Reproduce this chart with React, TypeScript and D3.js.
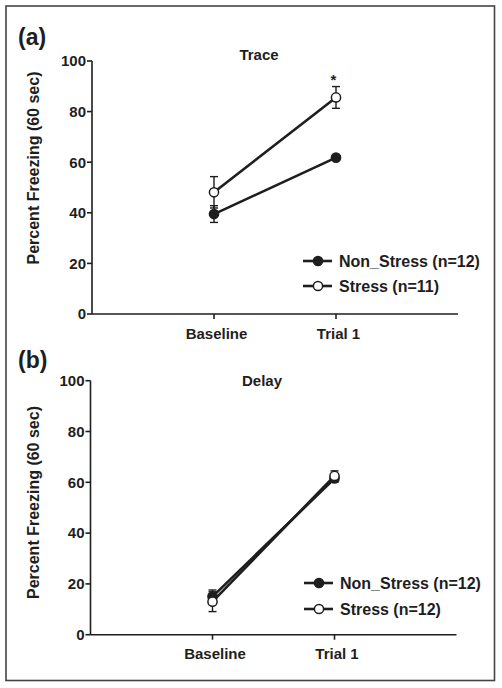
import React from "react";
import * as d3 from "d3";

const categories = ["Baseline", "Trial 1"];
const yTicks = [0, 20, 40, 60, 80, 100];

const traceNonStress = [39.5, 61.8];
const traceNonStressErr = [3.3, 1.0];
const traceStress = [48.1, 85.6];
const traceStressErr = [6.2, 4.3];

const delayNonStress = [15.0, 61.5];
const delayNonStressErr = [2.6, 1.5];
const delayStress = [13.0, 62.5];
const delayStressErr = [3.9, 2.0];

const traceLegend = ["Non_Stress (n=12)", "Stress (n=11)"];
const delayLegend = ["Non_Stress (n=12)", "Stress (n=12)"];

const INK = "#1e1e1e";
const FONT = "'Liberation Sans', Arial, Helvetica, sans-serif";

type PanelProps = {
  label: string;
  title: string;
  x0: number;
  x1: number;
  yTop: number;
  yBottom: number;
  titleX: number;
  titleY: number;
  labelY: number;
  yLabelCenter: number;
  nonStress: number[];
  nonStressErr: number[];
  stress: number[];
  stressErr: number[];
  legend: string[];
  legendRows: number[];
  legendX: number;
  star?: boolean;
};

function Panel(p: PanelProps) {
  const x = d3.scaleLinear().domain([0, 3]).range([p.x0, p.x1]);
  const y = d3.scaleLinear().domain([0, 100]).range([p.yBottom, p.yTop]);
  const pos = (i: number) => x(i + 1);
  const line = d3
    .line<number>()
    .x((_, i) => pos(i))
    .y((d) => y(d));

  const series = [
    { vals: p.nonStress, errs: p.nonStressErr, fill: INK },
    { vals: p.stress, errs: p.stressErr, fill: "#ffffff" },
  ];
  const cap = 4;
  return (
    <g fontFamily={FONT} fontWeight="bold" fill={INK}>
      <text x={18} y={p.labelY} fontSize={23}>
        {p.label}
      </text>
      <text x={p.titleX} y={p.titleY} fontSize={15} textAnchor="middle">
        {p.title}
      </text>
      <text
        transform={`translate(39,${p.yLabelCenter}) rotate(-90)`}
        fontSize={16}
        textAnchor="middle"
      >
        Percent Freezing (60 sec)
      </text>
      {/* axes */}
      <line x1={p.x0} x2={p.x0} y1={p.yTop} y2={p.yBottom} stroke={INK} strokeWidth={1.6} />
      <line x1={p.x0} x2={p.x1} y1={p.yBottom} y2={p.yBottom} stroke={INK} strokeWidth={1.6} />
      {yTicks.map((t) => (
        <g key={t}>
          <line x1={p.x0 - 5} x2={p.x0} y1={y(t)} y2={y(t)} stroke={INK} strokeWidth={1.6} />
          <text x={p.x0 - 6} y={y(t) + 5.3} fontSize={15} textAnchor="end">
            {t}
          </text>
        </g>
      ))}
      {categories.map((c, i) => (
        <g key={c}>
          <line x1={pos(i)} x2={pos(i)} y1={p.yBottom} y2={p.yBottom + 5} stroke={INK} strokeWidth={1.6} />
          <text x={pos(i) + 2.5} y={p.yBottom + 24.5} fontSize={15} textAnchor="middle">
            {c}
          </text>
        </g>
      ))}
      {/* lines */}
      {series.map((s, k) => (
        <path key={"l" + k} d={line(s.vals) || ""} fill="none" stroke={INK} strokeWidth={2.6} />
      ))}
      {/* error bars */}
      {series.map((s, k) =>
        s.vals.map((v, i) => (
          <g key={"e" + k + i} stroke={INK} strokeWidth={1.4}>
            <line x1={pos(i)} x2={pos(i)} y1={y(v - s.errs[i])} y2={y(v + s.errs[i])} />
            <line x1={pos(i) - cap} x2={pos(i) + cap} y1={y(v + s.errs[i])} y2={y(v + s.errs[i])} />
            <line x1={pos(i) - cap} x2={pos(i) + cap} y1={y(v - s.errs[i])} y2={y(v - s.errs[i])} />
          </g>
        ))
      )}
      {/* markers */}
      {series.map((s, k) =>
        s.vals.map((v, i) => (
          <circle key={"m" + k + i} cx={pos(i)} cy={y(v)} r={4.6} fill={s.fill} stroke={INK} strokeWidth={1.5} />
        ))
      )}
      {p.star && (
        <text x={pos(1) - 2.5} y={y(p.stress[1] + p.stressErr[1]) - 1.5} fontSize={15} textAnchor="middle">
          *
        </text>
      )}
      {/* legend */}
      {p.legend.map((name, k) => (
        <g key={name}>
          <line
            x1={p.legendX}
            x2={p.legendX + 29}
            y1={p.legendRows[k]}
            y2={p.legendRows[k]}
            stroke={INK}
            strokeWidth={2.6}
          />
          <circle
            cx={p.legendX + 15}
            cy={p.legendRows[k]}
            r={4.6}
            fill={series[k].fill}
            stroke={INK}
            strokeWidth={1.5}
          />
          <text x={p.legendX + 36} y={p.legendRows[k] + 5.6} fontSize={16}>
            {name}
          </text>
        </g>
      ))}
    </g>
  );
}

export default function App() {
  return (
    <svg
      width={502}
      height={688}
      style={{ position: "absolute", left: 0, top: 0, background: "#fff" }}
    >
      <rect x={0} y={0} width={502} height={688} fill="#fff" />
      <rect x={6} y={6} width={488.5} height={674.5} fill="none" stroke="#444" strokeWidth={1.6} />
      <Panel
        label="(a)"
        title="Trace"
        x0={92}
        x1={458}
        yTop={61}
        yBottom={314}
        titleX={259}
        titleY={59.5}
        labelY={45}
        yLabelCenter={168}
        nonStress={traceNonStress}
        nonStressErr={traceNonStressErr}
        stress={traceStress}
        stressErr={traceStressErr}
        legend={traceLegend}
        legendRows={[261, 286]}
        legendX={303}
        star
      />
      <Panel
        label="(b)"
        title="Delay"
        x0={90.5}
        x1={456.5}
        yTop={380.7}
        yBottom={634.7}
        titleX={262}
        titleY={386}
        labelY={368}
        yLabelCenter={502.5}
        nonStress={delayNonStress}
        nonStressErr={delayNonStressErr}
        stress={delayStress}
        stressErr={delayStressErr}
        legend={delayLegend}
        legendRows={[583, 609]}
        legendX={304}
      />
    </svg>
  );
}
